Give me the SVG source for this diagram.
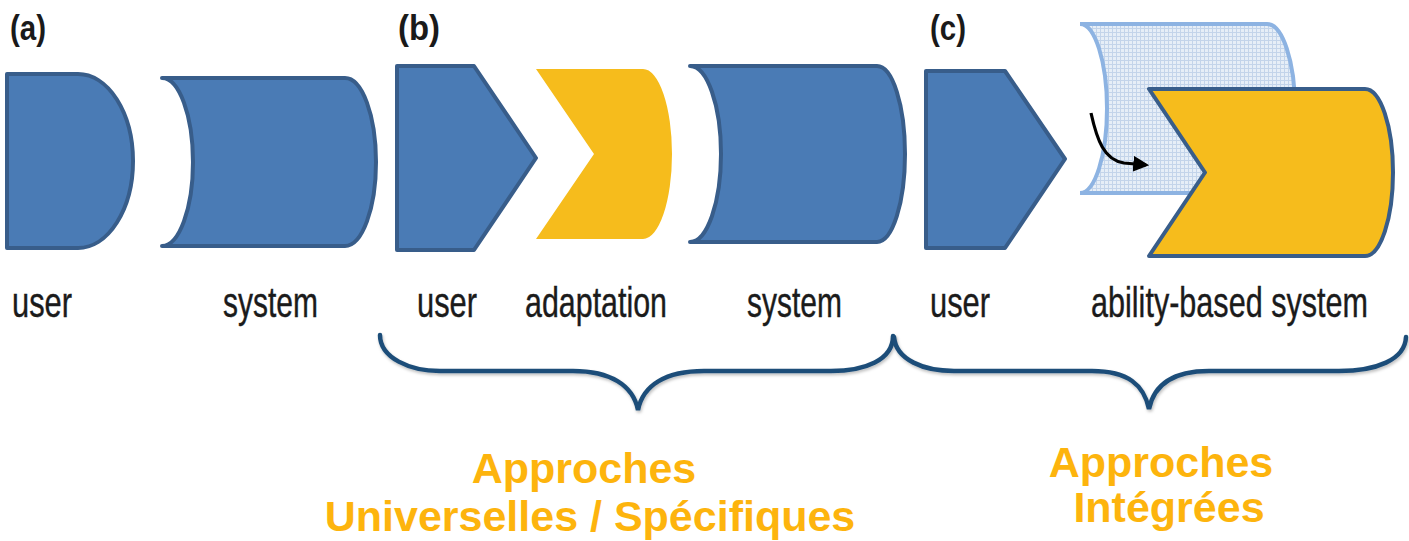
<svg xmlns="http://www.w3.org/2000/svg" width="1409" height="541" viewBox="0 0 1409 541">
<style>
  .blue { fill: #4a7bb5; stroke: #385d8a; stroke-width: 4; stroke-linejoin: round; }
  .yel { fill: #f6bc1c; }
  .yelS { fill: #f6bc1c; stroke: #385d8a; stroke-width: 4; stroke-linejoin: round; }
  .ghost { fill: url(#grid); stroke: #8db3e2; stroke-width: 4; }
  .brace { fill: none; stroke: #1f4e79; stroke-width: 4.5; stroke-linecap: round; filter: url(#sh); }
  .tag { font-family: "Liberation Sans", Arial, sans-serif; font-weight: bold; font-size: 35px; fill: #1a1a1a; }
  .lbl { font-family: "Liberation Sans", Arial, sans-serif; font-size: 42px; fill: #1b1b1b; stroke: #1b1b1b; stroke-width: 0.4; }
  .big { font-family: "Liberation Sans", Arial, sans-serif; font-weight: bold; font-size: 43px; fill: #fdb40d; text-anchor: middle; }
</style>
<defs>
  <pattern id="grid" width="4" height="4" patternUnits="userSpaceOnUse">
    <rect width="4" height="4" fill="#e6eef7"/>
    <path d="M0,0.5 H4 M0.5,0 V4" stroke="#c3d4ea" stroke-width="1"/>
  </pattern>
  <filter id="sh" x="-5%" y="-20%" width="110%" height="160%">
    <feDropShadow dx="1" dy="2" stdDeviation="1.5" flood-color="#000" flood-opacity="0.25"/>
  </filter>
  <marker id="ah" viewBox="0 0 10 10" refX="8" refY="5" markerWidth="5" markerHeight="5" orient="auto" markerUnits="strokeWidth">
    <path d="M0,0 L10,5 L0,10 Z" fill="#000"/>
  </marker>
</defs>

<g id="label-a"><text class="tag" x="10" y="40" textLength="36" lengthAdjust="spacingAndGlyphs">(a)</text></g>
<g id="label-b"><text class="tag" x="398" y="40" textLength="42" lengthAdjust="spacingAndGlyphs">(b)</text></g>
<g id="label-c"><text class="tag" x="930" y="40" textLength="36" lengthAdjust="spacingAndGlyphs">(c)</text></g>

<g id="a-user">
  <path class="blue" d="M7,74 H78 A55,87 0 0 1 78,248 H7 Z"/>
  <text class="lbl" x="12" y="317" textLength="60" lengthAdjust="spacingAndGlyphs">user</text>
</g>
<g id="a-system">
  <path class="blue" d="M162,78 H345 A31,84 0 0 1 345,246 H162 A31,84 0 0 0 162,78 Z"/>
  <text class="lbl" x="223" y="317" textLength="95" lengthAdjust="spacingAndGlyphs">system</text>
</g>

<g id="b-user">
  <path class="blue" d="M397,66 H474 L536,158 L474,250 H397 Z"/>
  <text class="lbl" x="417" y="317" textLength="60" lengthAdjust="spacingAndGlyphs">user</text>
</g>
<g id="b-adaptation">
  <path class="yel" d="M536,69 H643 A29,85 0 0 1 643,239 H536 L594,154 Z"/>
  <text class="lbl" x="525" y="317" textLength="142" lengthAdjust="spacingAndGlyphs">adaptation</text>
</g>
<g id="b-system">
  <path class="blue" d="M690,66 H877 A28,88 0 0 1 877,242 H690 A31,88 0 0 0 690,66 Z"/>
  <text class="lbl" x="747" y="317" textLength="95" lengthAdjust="spacingAndGlyphs">system</text>
</g>

<g id="c-user">
  <path class="blue" d="M926,71 H1005 L1065,159 L1005,248 H926 Z"/>
  <text class="lbl" x="930" y="317" textLength="60" lengthAdjust="spacingAndGlyphs">user</text>
</g>
<g id="c-ability-system">
  <path class="ghost" d="M1080,24 H1267 A28,84.5 0 0 1 1267,193 H1080 A27,84.5 0 0 0 1080,24 Z"/>
  <path class="yelS" d="M1149,89 H1365 A28,83.5 0 0 1 1365,256 H1149 L1205,172.5 Z"/>
  <text class="lbl" x="1091" y="317" textLength="277" lengthAdjust="spacingAndGlyphs">ability-based system</text>
</g>

<g id="connectors">
  <path d="M1091,113 C1097,140 1104,160 1124,163 L1146,165" fill="none" stroke="#000" stroke-width="3.2" marker-end="url(#ah)"/>
  <path class="brace" d="M380,335 C380,358 410,371 440,371 H573 C610,371 633,385 638,410 C643,385 666,371 704,371 H831 C865,371 893,360 893,336"/>
  <path class="brace" d="M894,337 C896,360 924,371 954,371 H1092 C1128,371 1144,385 1149,409 C1154,385 1172,371 1209,371 H1339 C1376,371 1405,360 1406,337"/>
</g>

<g id="group-universal">
  <text class="big" x="584" y="483">Approches</text>
  <text class="big" x="590" y="531">Universelles / Spécifiques</text>
</g>
<g id="group-integrated">
  <text class="big" x="1161" y="477">Approches</text>
  <text class="big" x="1169" y="522">Intégrées</text>
</g>
</svg>
